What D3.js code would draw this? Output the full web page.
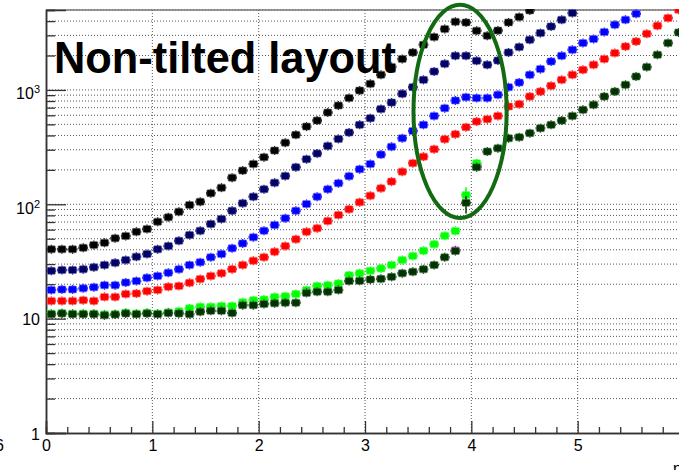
<!DOCTYPE html>
<html lang="en">
<head>
<meta charset="UTF-8">
<title>Non-tilted layout</title>
<script src="https://d3js.org/d3.v7.min.js"></script>
<style>
  body { margin: 0; background: #fff; }
  svg { display: block; font-family: "Liberation Sans", Arial, sans-serif; }
</style>
</head>
<body>
<div id="chart"></div>
<script>
// histogram bins of width 0.1 starting at 0; values read per bin
const binWidth = 0.1;

const blackVals = [40.4, 40.4, 40.4, 41.7, 44.0, 46.1, 50.4, 52.8, 57.5, 60.8,
  70.4, 76.9, 86.1, 98.6, 105.4, 124.8, 139.7, 171, 197, 225,
  258, 295, 346, 405, 478, 540, 634, 730, 848, 988,
  1131, 1356, 1590, 1862, 2125, 2482, 2899, 3405, 3947, 3892,
  3294, 2979, 3311, 3892, 4339, 4955];

const navyVals = [26.2, 26.6, 26.6, 27.0, 28.1, 29.4, 30.8, 32.5, 34.8, 36.7,
  40.4, 43.1, 48.0, 53.8, 58.7, 67.2, 74.3, 87.9, 102, 116.6,
  135.3, 154.5, 177, 211, 248, 278, 324, 373, 424, 495,
  566, 680, 776, 925, 1058, 1225, 1449, 1693, 1989, 1989,
  1798, 1659, 1808, 2125, 2371, 2747, 3143, 3590, 4111, 4700];

const blueVals = [17.8, 18.0, 18.0, 18.4, 18.8, 19.6, 19.6, 20.7, 21.3, 22.8,
  23.6, 25.2, 27.0, 29.4, 31.1, 34.4, 36.7, 41.2, 45.5, 51.4,
  58.7, 65.9, 75.4, 87.9, 100.6, 116.6, 135.3, 152.7, 176, 202.5,
  225, 272, 319, 378, 438, 495, 593, 693, 808, 865,
  848, 848, 906, 1058, 1161, 1356, 1521, 1774, 1989, 2244,
  2570, 2786, 3207, 3717, 4111, 4637];

const redVals = [14.3, 14.3, 14.3, 14.5, 14.3, 15.5, 15.5, 16.4, 16.6, 17.4,
  17.8, 19.0, 19.3, 20.6, 22.2, 23.6, 24.9, 27.1, 29.4, 32.1,
  34.4, 38.5, 43.1, 49.4, 57.5, 61.6, 71.4, 80.6, 90.4, 104,
  119, 138, 158, 193, 229, 261, 303, 371, 410, 472,
  529, 555, 593, 716, 751, 876, 968, 1086, 1225, 1356,
  1500, 1659, 1862, 2100, 2399, 2654, 3099, 3641, 4254, 5027];

const greenVals = [11.1, 11.2, 11.1, 11.1, 11.1, 10.9, 11.0, 11.3, 11.1, 11.3,
  11.1, 11.4, 11.6, 12.3, 12.7, 12.7, 12.9, 12.9, 13.9, 14.5,
  14.7, 15.5, 15.7, 16.4, 17.8, 19.3, 19.6, 20.3, 24.0, 24.9,
  26.2, 27.5, 29.4, 32.5, 35.3, 39.2, 44.7, 53.1, 58.4, 120.6,
  229];

const darkGreenVals = [10.95, 11.1, 10.95, 10.95, 10.95, 10.7, 10.85, 11.1, 10.95, 11.1,
  10.95, 11.2, 11.1, 10.95, 11.5, 11.7, 11.7, 11.2, 13.1, 13.1,
  13.4, 13.6, 13.8, 13.8, 16.8, 17.2, 17.2, 17.8, 21.3, 21.4,
  22.0, 22.3, 23.2, 24.9, 25.7, 27.0, 29.4, 34.4, 39.0, 103,
  211, 289, 309, 378, 386, 419, 463, 495, 540, 593,
  670, 741, 876, 968, 1109, 1310, 1584, 2029, 2570, 3184];

// a few bins of a magenta histogram peek out under the dark green one
const magentaBins = [38, 40];
const magentaVals = [39.6, 216];

// the only visibly long vertical error bars
const bigErrors = [
  { series: "green", bin: 39, lo: 101, hi: 141 },
  { series: "darkgreen", bin: 39, lo: 83, hi: 118 },
  { series: "green", bin: 40, lo: 212, hi: 249 }
];

const xTickLabels = ["0", "1", "2", "3", "4", "5", ""];
const yMajors = [1, 10, 100, 1000];
const yExponents = ["", "", "2", "3"];

const series = [
  { name: "magenta", color: "#ff00ff", halo: "#ff66ff", points: magentaBins.map((b, i) => ({ bin: b, v: magentaVals[i] })) },
  { name: "green", color: "#00ff00", halo: "#66ff66", values: greenVals },
  { name: "darkgreen", color: "#003300", halo: "#668866", values: darkGreenVals },
  { name: "red", color: "#ff0000", halo: "#ff7777", values: redVals },
  { name: "blue", color: "#0000ff", halo: "#7777ff", values: blueVals },
  { name: "navy", color: "#000066", halo: "#6666aa", values: navyVals },
  { name: "black", color: "#000000", halo: "#777777", values: blackVals }
];
series.forEach(s => {
  if (!s.points) s.points = s.values.map((v, i) => ({ bin: i, v: v }));
});

const width = 679, height = 470;
const x = d3.scaleLinear().domain([0, 6]).range([46, 684]);
const y = d3.scaleLog().domain([1, 5000]).range([433, 10]);

const svg = d3.select("#chart").append("svg")
    .attr("width", width)
    .attr("height", height);

const plot = svg.append("g");

// grid lines: every integer on x, every minor decade step on y
const yAll = [];
yMajors.forEach(d => { for (let m = 1; m <= 9; m++) if (d * m <= 5000) yAll.push(d * m); });

plot.append("g").selectAll("line")
    .data(yAll.filter(v => v > 1))
    .join("line")
    .attr("x1", x(0)).attr("x2", x(6))
    .attr("y1", d => y(d)).attr("y2", d => y(d))
    .attr("stroke", "#555")
    .attr("stroke-width", 1)
    .attr("stroke-dasharray", "1,2");

plot.append("g").selectAll("line")
    .data([1, 2, 3, 4, 5])
    .join("line")
    .attr("x1", d => x(d)).attr("x2", d => x(d))
    .attr("y1", y(5000)).attr("y2", y(1))
    .attr("stroke", "#555")
    .attr("stroke-width", 1)
    .attr("stroke-dasharray", "1,2");

// frame
plot.append("line")
    .attr("x1", x(0)).attr("x2", x(6))
    .attr("y1", y(5000)).attr("y2", y(5000))
    .attr("stroke", "#777").attr("stroke-width", 1.5);

// y axis (ROOT style, ticks inside)
const yAxisMinor = d3.axisLeft(y).tickValues(yAll.filter(v => !yMajors.includes(v))).tickSize(-9).tickFormat("");
const yAxisMajor = d3.axisLeft(y).tickValues(yMajors).tickSize(-20).tickFormat("");
[yAxisMinor, yAxisMajor].forEach(ax => {
  plot.append("g").attr("transform", `translate(${x(0)},0)`).call(ax)
      .call(g => g.select(".domain").attr("stroke", "#333").attr("stroke-width", 1.5))
      .call(g => g.selectAll(".tick line").attr("stroke", "#333").attr("stroke-width", 1.3));
});

const yLabels = plot.append("g").selectAll("text")
    .data(yMajors)
    .join("text")
    .attr("x", 40)
    .attr("y", (d, i) => y(d) + (yExponents[i] ? 9.5 : 6.5))
    .attr("text-anchor", "end")
    .attr("font-size", 16)
    .attr("fill", "#000");
yLabels.each(function (d, i) {
  const t = d3.select(this);
  if (yExponents[i]) {
    t.append("tspan").text("10");
    t.append("tspan").attr("font-size", 11).attr("dy", -6).text(yExponents[i]);
  } else {
    t.text(d);
  }
});

// x axis
const xMinor = d3.range(0, 31).map(i => i * 0.2).filter(v => Math.abs(v - Math.round(v)) > 1e-6);
const xAxisMinor = d3.axisBottom(x).tickValues(xMinor).tickSize(-6).tickFormat("");
const xAxisMajor = d3.axisBottom(x).tickValues(d3.range(0, 7)).tickSize(-12)
    .tickPadding(7).tickFormat((d, i) => xTickLabels[i]);
[xAxisMinor, xAxisMajor].forEach(ax => {
  plot.append("g").attr("transform", `translate(0,${y(1)})`).call(ax)
      .call(g => g.select(".domain").attr("stroke", "#333").attr("stroke-width", 1.5))
      .call(g => g.selectAll(".tick line").attr("stroke", "#333").attr("stroke-width", 1.3))
      .call(g => g.selectAll(".tick text").attr("font-size", 16).attr("fill", "#000")
          .attr("font-family", "Liberation Sans, Arial, sans-serif"));
});

// markers: filled square with bin-wide horizontal error bar
svg.append("clipPath").attr("id", "frame")
  .append("rect").attr("x", x(0)).attr("y", y(5000) - 1)
  .attr("width", x(6) - x(0)).attr("height", y(1) - y(5000) + 1);
const markers = svg.append("g").attr("clip-path", "url(#frame)");

series.forEach(s => {
  const g = markers.append("g");
  const pts = s.points.filter(p => p.v != null);
  const cx = p => x((p.bin + 0.5) * binWidth);
  g.selectAll("line.h").data(pts).join("line")
      .attr("x1", p => x(p.bin * binWidth) + 0.5).attr("x2", p => x((p.bin + 1) * binWidth) - 0.5)
      .attr("y1", p => y(p.v)).attr("y2", p => y(p.v))
      .attr("stroke", s.color).attr("stroke-width", 2.5);
  g.selectAll("line.v").data(pts).join("line")
      .attr("x1", cx).attr("x2", cx)
      .attr("y1", p => y(p.v) - 4.5).attr("y2", p => y(p.v) + 4.5)
      .attr("stroke", s.color).attr("stroke-width", 1.2);
  g.selectAll("line.e").data(bigErrors.filter(e => e.series === s.name)).join("line")
      .attr("x1", e => x((e.bin + 0.5) * binWidth)).attr("x2", e => x((e.bin + 0.5) * binWidth))
      .attr("y1", e => y(e.lo)).attr("y2", e => y(e.hi))
      .attr("stroke", s.color).attr("stroke-width", 1.5);
  g.selectAll("rect").data(pts).join("rect")
      .attr("x", p => cx(p) - 4).attr("y", p => y(p.v) - 3.5)
      .attr("width", 8).attr("height", 7)
      .attr("rx", 1)
      .attr("fill", s.color)
      .attr("stroke", s.halo).attr("stroke-opacity", 0.6).attr("stroke-width", 1);
});

// highlight ellipse around the transition region
const ellX = [3.456, 4.332];
const ellY = [76, 5560];
svg.append("ellipse")
    .attr("cx", (x(ellX[0]) + x(ellX[1])) / 2)
    .attr("cy", (y(ellY[0]) + y(ellY[1])) / 2)
    .attr("rx", (x(ellX[1]) - x(ellX[0])) / 2)
    .attr("ry", (y(ellY[0]) - y(ellY[1])) / 2)
    .attr("fill", "none")
    .attr("stroke", "#126a12")
    .attr("stroke-width", 4);

// title text inside the pad
svg.append("text")
    .attr("x", 54)
    .attr("y", 73)
    .attr("font-size", 45)
    .attr("font-weight", "bold")
    .attr("textLength", 342)
    .attr("lengthAdjust", "spacingAndGlyphs")
    .text("Non-tilted layout");

// pieces of neighbouring labels cut by the canvas edge, as in the original
svg.append("text").attr("x", 4).attr("y", 451).attr("text-anchor", "end")
    .attr("font-size", 16).text("6");
svg.append("text").attr("x", 673).attr("y", 474)
    .attr("font-size", 16).text("η");
</script>
</body>
</html>
